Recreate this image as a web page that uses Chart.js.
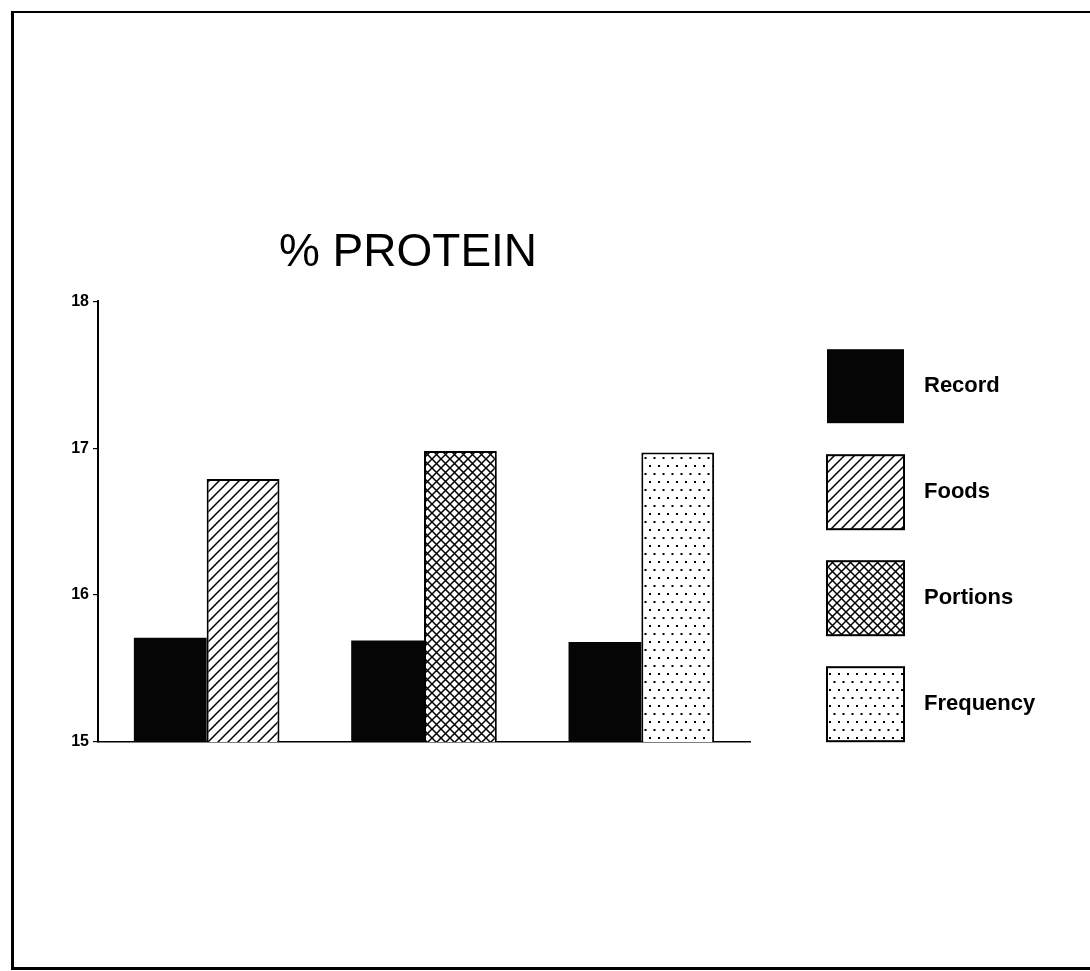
<!DOCTYPE html>
<html>
<head>
<meta charset="utf-8">
<script src="https://cdn.jsdelivr.net/npm/chart.js@4/dist/chart.umd.min.js"></script>
<style>
  body { margin: 0; background: #fff; }
  #wrap { position: absolute; left: 0; top: 0; width: 1090px; height: 971px; }
  #frame {
    position: absolute; left: 11px; top: 11px; width: 1100px; height: 954px;
    border-left: 3px solid #000; border-top: 2px solid #000; border-bottom: 3px solid #000;
    pointer-events: none;
  }
</style>
</head>
<body>
<div id="wrap"><canvas id="proteinChart"></canvas></div>
<div id="frame"></div>
<script>
// Chart data
const categories = ['Foods', 'Portions', 'Frequency'];
const recordValues = [15.71, 15.69, 15.68];
const foodsValues = [16.79, null, null];
const portionsValues = [null, 16.98, null];
const frequencyValues = [null, null, 16.97];
const yTicks = [15, 16, 17, 18];

// Fill patterns drawn on small tiles
function makePattern(w, h, draw) {
    const c = document.createElement('canvas');
    c.width = w;
    c.height = h;
    const g = c.getContext('2d');
    g.fillStyle = '#fff';
    g.fillRect(0, 0, w, h);
    g.strokeStyle = '#000';
    g.fillStyle = '#000';
    draw(g, w, h);
    return g.createPattern(c, 'repeat');
}

const hatchFill = makePattern(10, 10, (g, s) => {
    g.lineWidth = 1.5;
    g.beginPath();
    g.moveTo(-1, s + 1); g.lineTo(s + 1, -1);
    g.moveTo(-1, 1); g.lineTo(1, -1);
    g.moveTo(s - 1, s + 1); g.lineTo(s + 1, s - 1);
    g.stroke();
});

const crossFill = makePattern(9, 9, (g, s) => {
    g.lineWidth = 1.5;
    g.beginPath();
    g.moveTo(-1, s + 1); g.lineTo(s + 1, -1);
    g.moveTo(-1, -1); g.lineTo(s + 1, s + 1);
    g.stroke();
});

const dotFill = makePattern(9, 16, g => {
    g.fillRect(1, 1, 2, 2);
    g.fillRect(5.5, 9, 2, 2);
});

// Legend drawn at the right of the plot
const sideLegend = {
    id: 'sideLegend',
    afterDraw(chart) {
        const ctx = chart.ctx;
        const area = chart.chartArea;
        const x = area.right + 77;
        let y = area.top + 48;
        ctx.save();
        ctx.font = 'bold 22px "Liberation Sans", Arial, sans-serif';
        ctx.textBaseline = 'middle';
        chart.data.datasets.forEach(ds => {
            ctx.fillStyle = ds.backgroundColor;
            ctx.fillRect(x, y, 77, 74);
            if (ds.borderWidth) {
                ctx.lineWidth = ds.borderWidth;
                ctx.strokeStyle = ds.borderColor;
                ctx.strokeRect(x, y, 77, 74);
            }
            ctx.fillStyle = '#000';
            ctx.fillText(ds.label, x + 97, y + 37);
            y += 106;
        });
        ctx.restore();
    }
};

const ctx = document.getElementById('proteinChart').getContext('2d');
new Chart(ctx, {
    type: 'bar',
    data: {
        labels: categories,
        datasets: [
            { label: 'Record', data: recordValues, backgroundColor: '#050505', borderWidth: 0 },
            { label: 'Foods', data: foodsValues, backgroundColor: hatchFill, borderColor: '#000', borderWidth: 2 },
            { label: 'Portions', data: portionsValues, backgroundColor: crossFill, borderColor: '#000', borderWidth: 2 },
            { label: 'Frequency', data: frequencyValues, backgroundColor: dotFill, borderColor: '#000', borderWidth: 2 }
        ]
    },
    options: {
        responsive: true,
        maintainAspectRatio: false,
        animation: false,
        skipNull: true,
        categoryPercentage: 0.67,
        barPercentage: 1.0,
        layout: { padding: { left: 66, right: 340, top: 0, bottom: 229 } },
        plugins: {
            legend: { display: false },
            tooltip: { enabled: false },
            title: {
                display: true,
                text: '% PROTEIN',
                color: '#000',
                font: { family: '"Liberation Sans", Arial, sans-serif', size: 46, weight: 'normal' },
                padding: { top: 226, bottom: 20 }
            }
        },
        scales: {
            x: {
                ticks: { display: false },
                grid: { display: false, drawTicks: false },
                border: { color: '#000', width: 1.5 }
            },
            y: {
                min: yTicks[0],
                max: yTicks[yTicks.length - 1],
                afterFit: scale => { scale.width = 32; },
                afterBuildTicks: scale => { scale.ticks = yTicks.map(v => ({ value: v })); },
                ticks: {
                    color: '#000',
                    padding: 4,
                    font: { family: '"Liberation Sans", Arial, sans-serif', size: 16, weight: 'bold' }
                },
                grid: { drawOnChartArea: false, drawTicks: true, tickLength: 5, color: '#000', lineWidth: 1.2 },
                border: { color: '#000', width: 2 }
            }
        }
    },
    plugins: [sideLegend]
});
</script>
</body>
</html>
